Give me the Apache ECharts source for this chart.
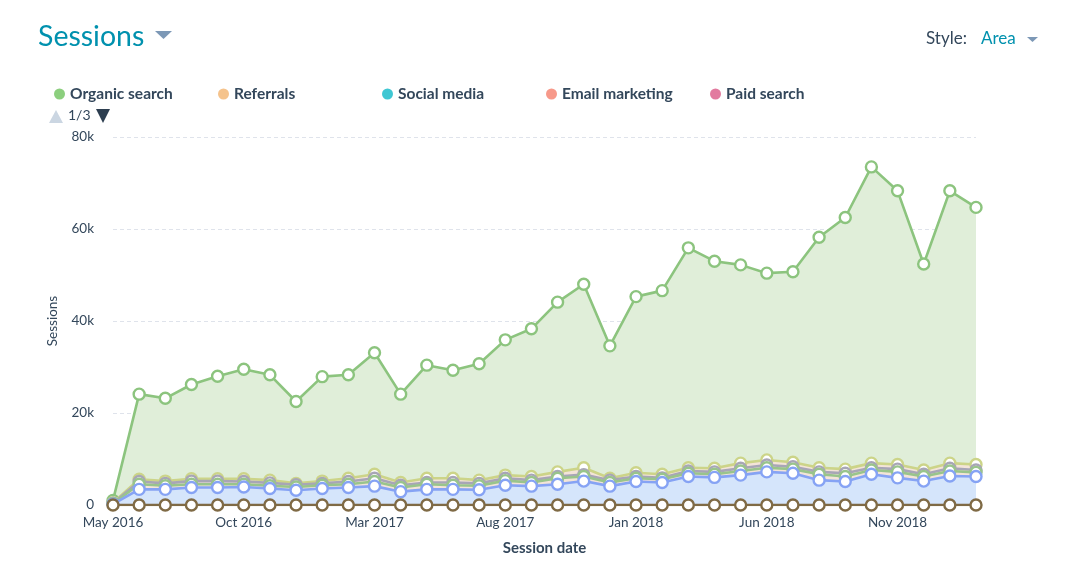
<!DOCTYPE html>
<html>
<head>
<meta charset="utf-8">
<script src="https://cdn.jsdelivr.net/npm/echarts@6/dist/echarts.min.js"></script>
<style>
html,body{margin:0;padding:0;background:#fff;}
#chart{width:1074px;height:569px;}
</style>
</head>
<body>
<div id="chart"></div>
<script>
const months = ["May 2016","Jun 2016","Jul 2016","Aug 2016","Sep 2016","Oct 2016","Nov 2016","Dec 2016",
  "Jan 2017","Feb 2017","Mar 2017","Apr 2017","May 2017","Jun 2017","Jul 2017","Aug 2017","Sep 2017","Oct 2017","Nov 2017","Dec 2017",
  "Jan 2018","Feb 2018","Mar 2018","Apr 2018","May 2018","Jun 2018","Jul 2018","Aug 2018","Sep 2018","Oct 2018","Nov 2018","Dec 2018",
  "Jan 2019","Feb 2019"];
const organicSearch = [1000,24100,23200,26200,28000,29500,28300,22500,27900,28300,33100,24100,30400,29300,30700,35900,38300,44100,48000,34600,45300,46600,55900,53000,52200,50400,50700,58200,62500,73500,68300,52400,68300,64700];
const referrals = [500,5600,5200,5700,5700,5700,5400,4700,5200,5800,6700,4900,5800,5800,5400,6500,6200,7200,8100,5800,7000,6700,8100,8000,9100,9800,9300,8100,7800,9100,8800,7600,9100,8800];
const socialMedia = [400,5100,4700,5200,5200,5100,4800,4400,4700,5100,5800,4300,4900,4900,4700,5800,5400,6200,6600,5400,6200,5900,7400,7200,8000,8700,8300,7200,6900,8100,7800,6700,8000,7600];
const emailMarketing = [300,4500,4200,4500,4500,4500,4200,3900,4300,4500,5100,3800,4500,4300,4200,5300,4900,5800,6200,4900,5800,5600,6900,6700,7400,8100,7800,6700,6200,7600,7200,6200,7400,7100];
const directTraffic = [200,3400,3400,3800,3800,3900,3600,3200,3600,3800,4100,2900,3400,3400,3300,4300,4100,4500,5200,4100,5100,4900,6200,6000,6500,7200,6900,5400,5100,6700,5900,5200,6300,6200];
const paidSearch = [0,0,0,0,0,0,0,0,0,0,0,0,0,0,0,0,0,0,0,0,0,0,0,0,0,0,0,0,0,0,0,0,0,0];
const yTicks = [0,20000,40000,60000,80000];
const legendNames = ["Organic search","Referrals","Social media","Email marketing","Paid search"];
const legendColors = ["#8ccf7e","#f5c38c","#3fc7d3","#f7998a","#e27a9f"];

const FONT = "Lato, 'Open Sans', sans-serif";
const DARK = "#33475b";

function mk(name, data, lineColor, areaColor, z) {
  return {
    name: name, type: 'line', data: data, z: z,
    symbol: 'circle', symbolSize: 11,
    lineStyle: {color: lineColor, width: 2.6},
    itemStyle: {color: '#ffffff', borderColor: lineColor, borderWidth: 2.4},
    areaStyle: areaColor ? {color: areaColor, opacity: 1} : undefined,
    emphasis: {disabled: true}
  };
}

const chart = echarts.init(document.getElementById('chart'), null, {renderer: 'canvas'});
chart.setOption({
  animation: false,
  textStyle: {fontFamily: FONT},
  title: {
    text: 'Sessions', left: 33, top: 17,
    textStyle: {color: '#0091ae', fontSize: 28.5, fontWeight: 'normal', fontFamily: FONT}
  },
  graphic: [
    {type: 'polygon', shape: {points: [[155,31],[172,31],[163.5,39]]}, style: {fill: '#7c98b6'}},
    {type: 'text', left: 926, top: 30, style: {text: 'Style:', fill: DARK, font: '17px ' + FONT}},
    {type: 'text', left: 981, top: 30, style: {text: 'Area', fill: '#0091ae', font: '17px ' + FONT}},
    {type: 'polygon', shape: {points: [[1027,37],[1038,37],[1032.5,42]]}, style: {fill: '#7c98b6'}},
    {type: 'polygon', shape: {points: [[49,123],[63,123],[56,110]]}, style: {fill: '#cbd6e2'}},
    {type: 'text', left: 68, top: 108, style: {text: '1/3', fill: DARK, font: '14px ' + FONT}},
    {type: 'polygon', shape: {points: [[96,109],[110,109],[103,123]]}, style: {fill: '#2d3e50'}}
  ],
  legend: legendNames.map((n, i) => ({
    left: 49 + 164 * i, top: 81, itemWidth: 11, itemHeight: 11, icon: 'circle',
    selectedMode: false,
    data: [{name: n, itemStyle: {color: legendColors[i], borderWidth: 0}}],
    textStyle: {color: DARK, fontSize: 15.5, fontWeight: 'bold', fontFamily: FONT}
  })),
  grid: {left: 113, right: 98, top: 137, bottom: 64, containLabel: false},
  xAxis: {
    type: 'category', data: months, boundaryGap: false,
    name: 'Session date', nameLocation: 'middle', nameGap: 36,
    nameTextStyle: {color: DARK, fontSize: 15, fontWeight: 'bold', fontFamily: FONT},
    axisLine: {lineStyle: {color: '#e8c4c4', width: 1}},
    axisTick: {show: false},
    axisLabel: {interval: 4, color: DARK, fontSize: 13.5, margin: 11, fontFamily: FONT}
  },
  yAxis: {
    type: 'value', min: yTicks[0], max: yTicks[yTicks.length-1], interval: yTicks[1]-yTicks[0],
    name: 'Sessions', nameLocation: 'middle', nameGap: 53, nameRotate: 90,
    nameTextStyle: {color: DARK, fontSize: 13.5, fontFamily: FONT},
    axisLine: {show: false}, axisTick: {show: false},
    axisLabel: {color: DARK, fontSize: 13.5, margin: 19, fontFamily: FONT,
      formatter: v => v === 0 ? '0' : (v/1000) + 'k'},
    splitLine: {lineStyle: {color: '#dfe3eb', type: [4,3], width: 1}}
  },
  series: [
    mk('Organic search', organicSearch, '#8cc47e', '#e0eed9', 2),
    mk('Referrals', referrals, '#ccd488', '#f3e4d8', 3),
    mk('Social media', socialMedia, '#a8a6b6', null, 4),
    mk('Email marketing', emailMarketing, '#99c48c', null, 5),
    mk('Direct traffic', directTraffic, '#86a3f4', '#d5e5fb', 6),
    mk('Paid search', paidSearch, '#7f6a45', null, 7)
  ]
});
</script>
</body>
</html>
